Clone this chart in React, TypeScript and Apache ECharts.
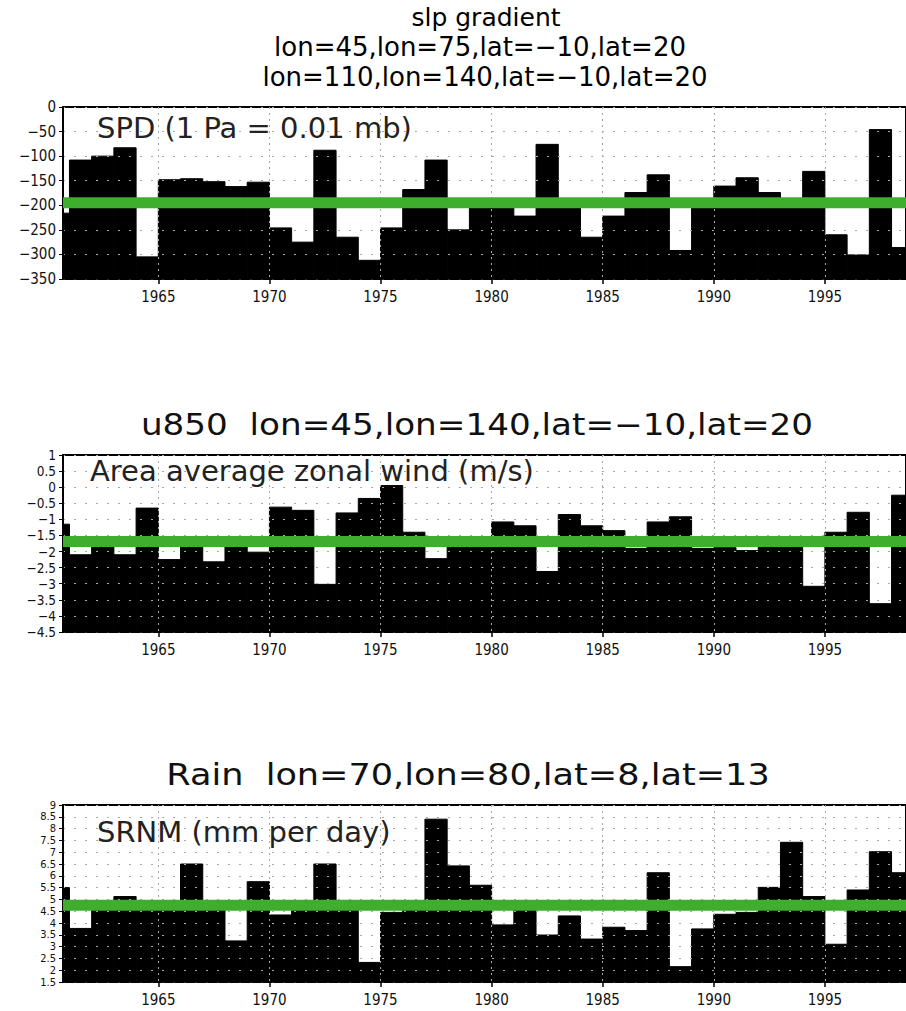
import React, { useEffect, useRef } from "react";
import * as echarts from "echarts";

const YEARS = [
  1960, 1961, 1962, 1963, 1964, 1965, 1966, 1967, 1968, 1969,
  1970, 1971, 1972, 1973, 1974, 1975, 1976, 1977, 1978, 1979,
  1980, 1981, 1982, 1983, 1984, 1985, 1986, 1987, 1988, 1989,
  1990, 1991, 1992, 1993, 1994, 1995, 1996, 1997, 1998,
];

const SPD = [
  -216, -108, -100, -83, -305, -148, -146, -152, -162, -153,
  -246, -275, -88, -265, -312, -246, -168, -108, -250, -200,
  -203, -222, -76, -198, -265, -222, -174, -138, -292, -200,
  -161, -144, -174, -198, -131, -260, -301, -46, -286,
];
const SPD_MEAN = -195;

const U850 = [
  -1.15, -2.1, -1.75, -2.1, -0.65, -2.25, -1.75, -2.32, -1.78, -2.02,
  -0.62, -0.72, -3.02, -0.8, -0.35, 0.05, -1.4, -2.22, -1.75, -1.72,
  -1.08, -1.2, -2.62, -0.85, -1.2, -1.35, -1.9, -1.08, -0.92, -1.9,
  -1.88, -1.97, -1.75, -1.72, -3.08, -1.4, -0.78, -3.62, -0.25,
];
const U850_MEAN = -1.69;

const RAIN = [
  5.5, 3.77, 4.8, 5.12, 4.8, 4.75, 6.5, 4.8, 3.24, 5.75,
  4.34, 4.8, 6.5, 4.75, 2.33, 4.45, 4.7, 8.4, 6.42, 5.6,
  3.92, 4.75, 3.49, 4.3, 3.32, 3.82, 3.68, 6.13, 2.15, 3.75,
  4.37, 4.45, 5.51, 7.42, 5.12, 3.1, 5.4, 7.02, 6.13,
];
const RAIN_MEAN = 4.75;

const X_TICKS = [1965, 1970, 1975, 1980, 1985, 1990, 1995];
const X_MIN = 1960.71;
const X_MAX = 1998.65;

const PANELS = [
  { values: SPD, mean: SPD_MEAN, yMin: -350, yMax: 0, interval: 50, top: 107, height: 172, labelSize: 15 },
  { values: U850, mean: U850_MEAN, yMin: -4.5, yMax: 1, interval: 0.5, top: 455, height: 177, labelSize: 13.5 },
  { values: RAIN, mean: RAIN_MEAN, yMin: 1.5, yMax: 9, interval: 0.5, top: 805, height: 177, labelSize: 11 },
];

const GREEN = "#3fae2f";
const LABEL_FONT = "'DejaVu Sans Condensed', 'Liberation Sans Narrow', 'DejaVu Sans', sans-serif";
const TEXT_FONT = "'DejaVu Sans', Verdana, sans-serif";

const fmtY = (v: number) => {
  const r = Math.round(v * 100) / 100;
  return (r < 0 ? "\u2212" : "") + String(Math.abs(r));
};

export default function App() {
  const ref = useRef<HTMLDivElement>(null);

  useEffect(() => {
    if (!ref.current) return;
    const chart = echarts.init(ref.current, undefined, { renderer: "svg" });

    const grids = PANELS.map((p) => ({
      left: 63,
      right: 0,
      top: p.top,
      height: p.height,
      show: true,
      borderColor: "#000",
      borderWidth: 2,
      backgroundColor: "transparent",
    }));

    const xAxes = PANELS.map((p, i) => ({
      gridIndex: i,
      type: "value",
      min: X_MIN,
      max: X_MAX,
      z: 3,
      axisLine: { show: true, onZero: false, lineStyle: { color: "#000", width: 1.5 } },
      axisTick: { show: true, customValues: X_TICKS, length: 5, lineStyle: { color: "#000", width: 1.5 } },
      axisLabel: {
        customValues: X_TICKS,
        fontSize: 15,
        color: "#111",
        margin: 10,
        fontFamily: LABEL_FONT,
        formatter: (v: number) => String(Math.round(v)),
      },
      splitLine: { show: true, lineStyle: { color: "#a8a8a8", type: [2, 4], width: 1 } },
    }));

    const yAxes = PANELS.map((p, i) => ({
      gridIndex: i,
      type: "value",
      min: p.yMin,
      max: p.yMax,
      interval: p.interval,
      z: 3,
      axisLine: { show: true, onZero: false, lineStyle: { color: "#000", width: 2 } },
      axisTick: { show: true, length: 4, lineStyle: { color: "#000", width: 1 } },
      axisLabel: {
        fontSize: p.labelSize,
        color: "#111",
        margin: 7,
        fontFamily: LABEL_FONT,
        showMinLabel: true,
        showMaxLabel: true,
        hideOverlap: false,
        formatter: fmtY,
      },
      splitLine: { show: true, lineStyle: { color: "#a8a8a8", type: [2, 9], width: 1 } },
    }));

    const series: any[] = [];
    PANELS.forEach((p, i) => {
      series.push({
        type: "custom",
        xAxisIndex: i,
        yAxisIndex: i,
        z: 2,
        clip: true,
        silent: true,
        data: YEARS.map((y, k) => [y, p.values[k]]),
        renderItem: (params: any, api: any) => {
          const yr = api.value(0);
          const v = api.value(1);
          const x0 = Math.max(yr, X_MIN);
          const x1 = Math.min(yr + 1, X_MAX);
          if (x1 <= x0) return null;
          const a = api.coord([x0, v]);
          const b = api.coord([x1, p.yMin]);
          return {
            type: "rect",
            shape: { x: a[0], y: a[1], width: b[0] - a[0], height: b[1] - a[1] },
            style: { fill: "#000", stroke: "#000", lineWidth: 1 },
          };
        },
      });
      series.push({
        type: "line",
        xAxisIndex: i,
        yAxisIndex: i,
        z: 5,
        silent: true,
        symbol: "none",
        data: [[X_MIN, p.mean], [X_MAX, p.mean]],
        lineStyle: { color: GREEN, width: 11 },
      });
    });

    const graphic: any[] = [
      { type: "text", x: 486, y: 17, style: { text: "slp gradient", font: `25px ${TEXT_FONT}`, fill: "#000", textAlign: "center", textVerticalAlign: "middle" } },
      { type: "text", x: 480, y: 47, style: { text: "lon=45,lon=75,lat=\u221210,lat=20", font: `26px ${TEXT_FONT}`, fill: "#000", textAlign: "center", textVerticalAlign: "middle" } },
      { type: "text", x: 485, y: 77, style: { text: "lon=110,lon=140,lat=\u221210,lat=20", font: `26px ${TEXT_FONT}`, fill: "#000", textAlign: "center", textVerticalAlign: "middle" } },
      { type: "text", x: 477, y: 425, scaleX: 1.14, style: { text: "u850  lon=45,lon=140,lat=\u221210,lat=20", font: `30px ${TEXT_FONT}`, fill: "#111", textAlign: "center", textVerticalAlign: "middle" } },
      { type: "text", x: 468, y: 775, scaleX: 1.17, style: { text: "Rain  lon=70,lon=80,lat=8,lat=13", font: `30px ${TEXT_FONT}`, fill: "#111", textAlign: "center", textVerticalAlign: "middle" } },
      { type: "text", x: 97, y: 128, z: 10, style: { text: "SPD (1 Pa = 0.01 mb)", font: `29px ${TEXT_FONT}`, fill: "#222", textAlign: "left", textVerticalAlign: "middle" } },
      { type: "text", x: 90, y: 471, z: 10, style: { text: "Area average zonal wind (m/s)", font: `29px ${TEXT_FONT}`, fill: "#222", textAlign: "left", textVerticalAlign: "middle" } },
      { type: "text", x: 97, y: 832, z: 10, style: { text: "SRNM (mm per day)", font: `29px ${TEXT_FONT}`, fill: "#222", textAlign: "left", textVerticalAlign: "middle" } },
    ];

    chart.setOption({
      animation: false,
      backgroundColor: "#fff",
      grid: grids,
      xAxis: xAxes,
      yAxis: yAxes,
      series,
      graphic,
    });

    return () => chart.dispose();
  }, []);

  return (
    <div
      ref={ref}
      style={{ position: "absolute", left: 0, top: 0, width: 906, height: 1011 }}
    />
  );
}
